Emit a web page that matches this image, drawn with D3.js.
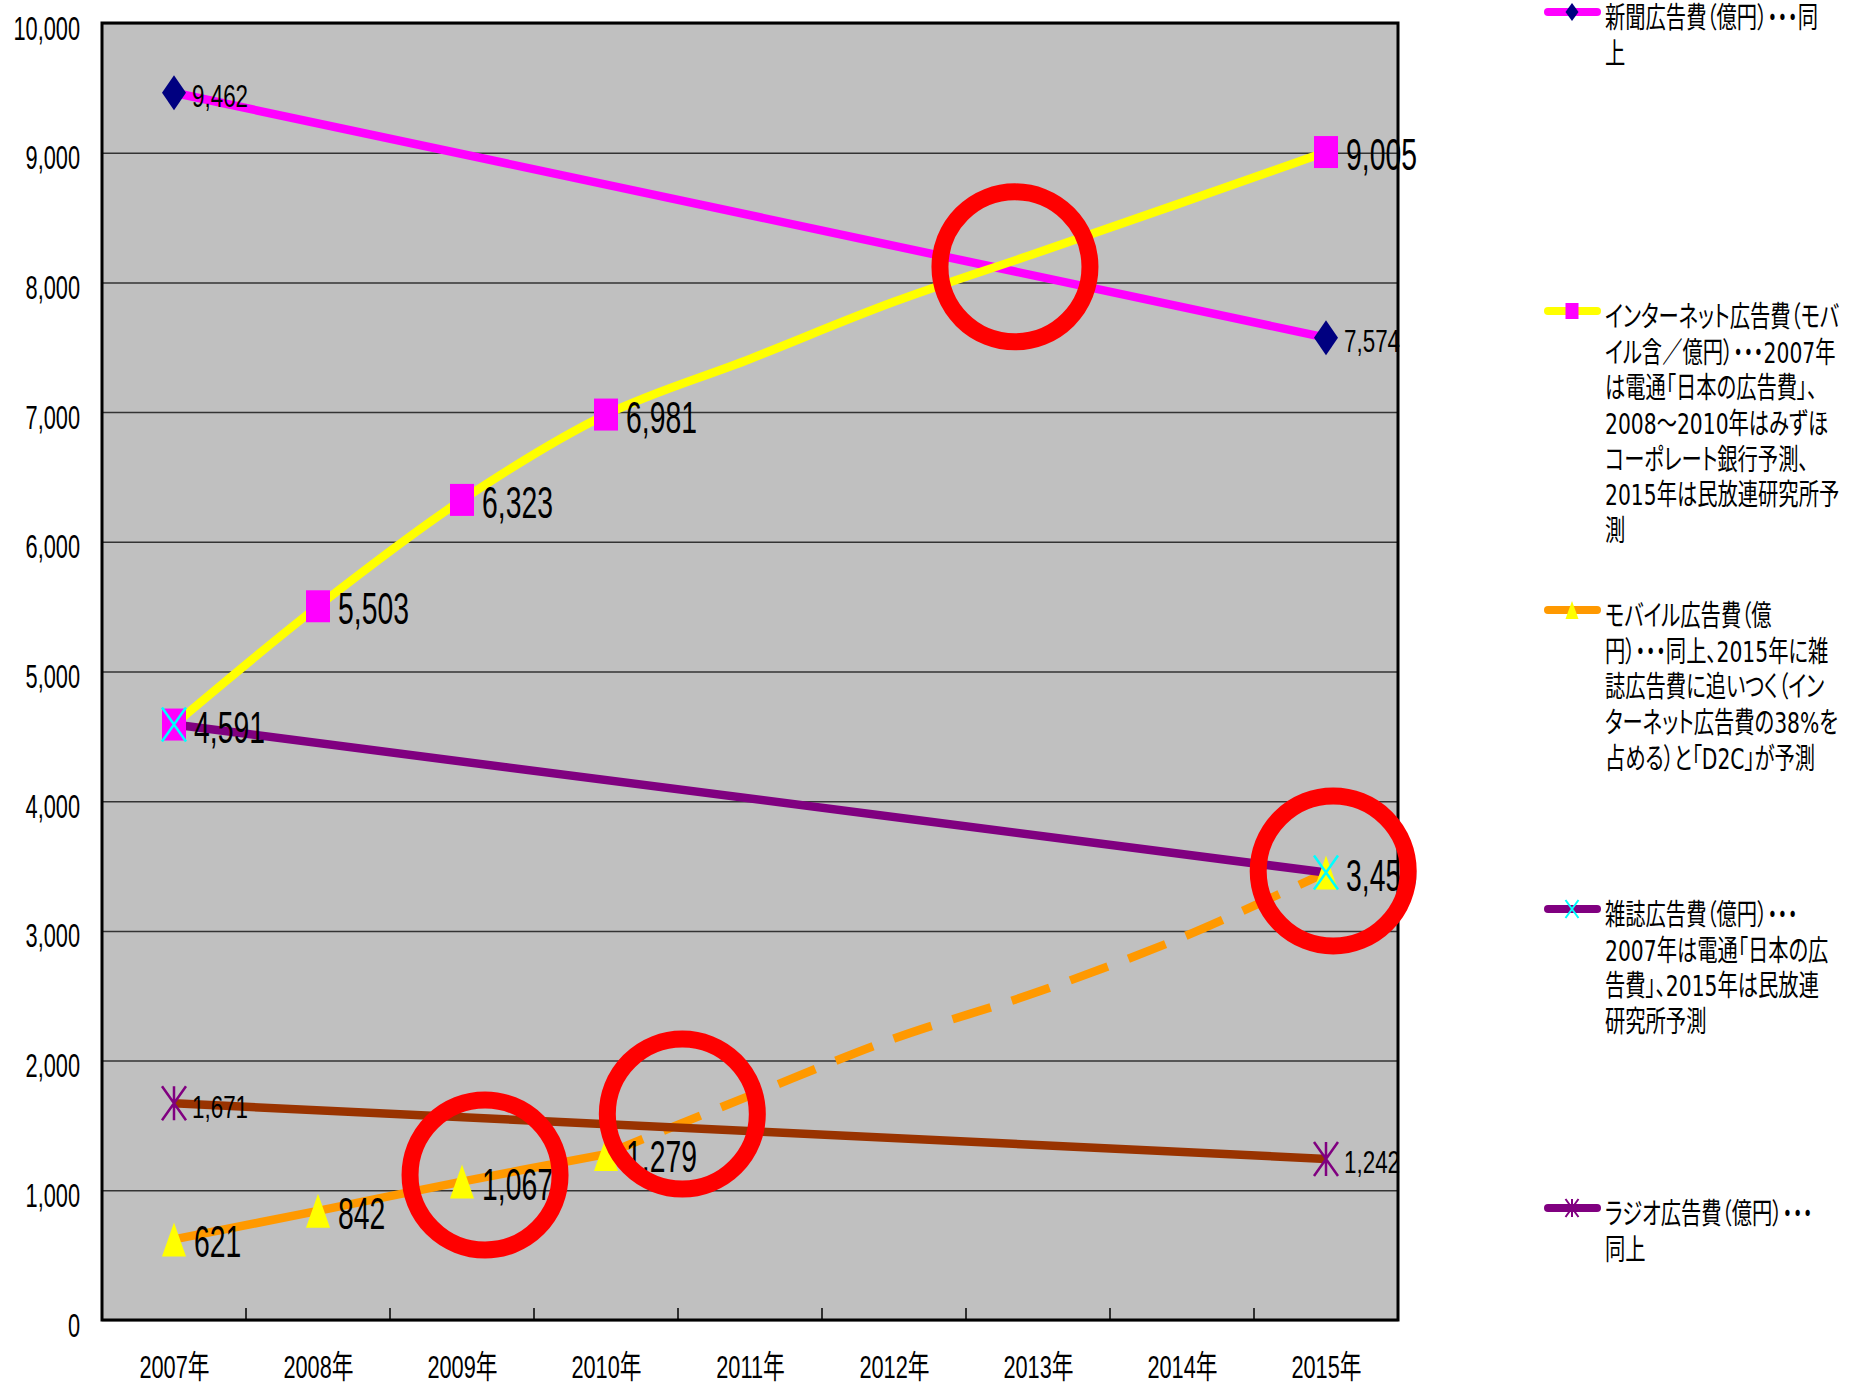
<!DOCTYPE html>
<html>
<head>
<meta charset="utf-8">
<script src="https://cdn.jsdelivr.net/npm/d3@7"></script>
<style>
  body { margin: 0; background: #fff; }
  svg { display: block; }
</style>
</head>
<body>
<svg id="chart"></svg>
<script>
// ---- data ----
const yearLabels = ["2007年", "2008年", "2009年", "2010年", "2011年", "2012年", "2013年", "2014年", "2015年"];
const yTicks = [0, 1000, 2000, 3000, 4000, 5000, 6000, 7000, 8000, 9000, 10000];

const newspaperAd = [9462, null, null, null, null, null, null, null, 7574];
const internetAd  = [4591, 5503, 6323, 6981, 7410, 7850, 8230, 8615, 9005];
const mobileAd    = [621, 842, 1067, 1279, 1730, 2170, 2530, 2950, 3450];
const magazineAd  = [4591, null, null, null, null, null, null, null, 3450];
const radioAd     = [1671, null, null, null, null, null, null, null, 1242];

// years that carry a marker + value label (the rest is only the drawn trend)
const markedYears = ["2007年", "2008年", "2009年", "2010年", "2015年"];
const mobileForecastFrom = "2010年";

// red rings drawn over the chart (year position, value)
const ringYears  = [2012.84, 2015.05, 2010.53, 2009.16];
const ringValues = [8120, 3462, 1588, 1118];

const legendNewspaper = ["新聞広告費（億円）・・・同", "上"];
const legendInternet = ["インターネット広告費（モバ", "イル含／億円）・・・2007年", "は電通「日本の広告費」、",
  "2008～2010年はみずほ", "コーポレート銀行予測、", "2015年は民放連研究所予", "測"];
const legendMobile = ["モバイル広告費（億", "円）・・・同上、2015年に雑", "誌広告費に追いつく（イン",
  "ターネット広告費の38%を", "占める）と「D2C」が予測"];
const legendMagazine = ["雑誌広告費（億円）・・・", "2007年は電通「日本の広", "告費」、2015年は民放連", "研究所予測"];
const legendRadio = ["ラジオ広告費（億円）・・・", "同上"];

// ---- styles ----
const series = [
  {values: newspaperAd, line: "#ff00ff", marker: "diamond", mcolor: "#000080", label: "small", legend: legendNewspaper, lcolor: "#ff00ff"},
  {values: internetAd,  line: "#ffff00", marker: "square",  mcolor: "#ff00ff", label: "big",   legend: legendInternet,  lcolor: "#ffff00"},
  {values: mobileAd,    line: "#ff9900", marker: "triangle",mcolor: "#ffff00", label: "big",   legend: legendMobile,    lcolor: "#ff9900", forecast: true},
  {values: magazineAd,  line: "#800080", marker: "x",       mcolor: "#00ffff", label: null,    legend: legendMagazine,  lcolor: "#800080"},
  {values: radioAd,     line: "#993300", marker: "star",    mcolor: "#800080", label: "small", legend: legendRadio,     lcolor: "#800080"}
];

const W = 1854, H = 1387;
const margin = {top: 23, right: 456, bottom: 67, left: 102};
const width = W - margin.left - margin.right;
const height = H - margin.top - margin.bottom;
const numFont = "'Liberation Sans', 'Noto Sans CJK JP', sans-serif";
const jpFont = "'DejaVu Sans', 'Noto Sans CJK JP', sans-serif";

const svg = d3.select("#chart").attr("width", W).attr("height", H);
const chart = svg.append("g").attr("transform", `translate(${margin.left},${margin.top})`);

const x = d3.scalePoint().domain(yearLabels).range([0, width]).padding(0.5);
const y = d3.scaleLinear().domain([0, 10000]).range([height, 0]);
const xYear = d3.scaleLinear().domain([2007, 2015]).range([x(yearLabels[0]), x(yearLabels[8])]);
const fmt = d3.format(",");

function markerPath(type, w, h) {
  const p = d3.path(), a = w / 2, b = h / 2;
  if (type === "diamond") { p.moveTo(0, -b); p.lineTo(a, 0); p.lineTo(0, b); p.lineTo(-a, 0); p.closePath(); }
  else if (type === "square") { p.rect(-a, -b, w, h); }
  else if (type === "triangle") { p.moveTo(0, -b); p.lineTo(a, b); p.lineTo(-a, b); p.closePath(); }
  else if (type === "x") { p.moveTo(-a, -b); p.lineTo(a, b); p.moveTo(a, -b); p.lineTo(-a, b); }
  else if (type === "star") { p.moveTo(-a, -b); p.lineTo(a, b); p.moveTo(a, -b); p.lineTo(-a, b); p.moveTo(0, -b); p.lineTo(0, b); }
  return p.toString();
}
const stroked = t => t === "x" || t === "star";

function drawMarker(sel, type, color, w, h, sw) {
  sel.attr("d", markerPath(type, w, h))
    .attr("fill", stroked(type) ? "none" : color)
    .attr("stroke", stroked(type) ? color : "none")
    .attr("stroke-width", sw);
}

// plot background
chart.append("rect").attr("width", width).attr("height", height).attr("fill", "#c0c0c0");

// y axis with grid
const yAxisG = chart.append("g")
  .call(d3.axisLeft(y).tickValues(yTicks).tickSize(-width).tickPadding(22).tickFormat(fmt));
yAxisG.select(".domain").remove();
yAxisG.selectAll(".tick line").attr("stroke", "#333").attr("stroke-width", 1.5);
yAxisG.selectAll(".tick text")
  .attr("x", 0).attr("dy", null)
  .attr("transform", "translate(-22,16) scale(0.66,1)")
  .attr("font-family", numFont).attr("font-size", 33).attr("fill", "#000");

// x axis labels
const xAxisG = chart.append("g").attr("transform", `translate(0,${height})`)
  .call(d3.axisBottom(x).tickSize(0).tickPadding(0));
xAxisG.select(".domain").remove();
xAxisG.selectAll(".tick text")
  .attr("y", 0).attr("dy", null)
  .attr("transform", "translate(0,58) scale(0.68,1)")
  .attr("font-family", numFont).attr("font-size", 32).attr("fill", "#000");

// category boundary ticks, pointing into the plot
chart.append("g").selectAll("line")
  .data(yearLabels.slice(1))
  .join("line")
  .attr("x1", d => x(d) - x.step() / 2).attr("x2", d => x(d) - x.step() / 2)
  .attr("y1", height - 12).attr("y2", height)
  .attr("stroke", "#000").attr("stroke-width", 1.5);

// lines
const pts = vals => yearLabels.map((yr, i) => ({yr, v: vals[i]})).filter(d => d.v != null);
const lineGen = d3.line().x(d => x(d.yr)).y(d => y(d.v)).curve(d3.curveCatmullRom.alpha(0.5));
const linesG = chart.append("g").attr("fill", "none").attr("stroke-width", 8.5);

series.forEach(s => {
  const p = pts(s.values);
  if (s.forecast) {
    const k = p.findIndex(d => d.yr === mobileForecastFrom);
    linesG.append("path").attr("d", lineGen(p.slice(0, k + 1))).attr("stroke", s.line).attr("stroke-linejoin", "round");
    linesG.append("path").attr("d", lineGen(p.slice(k))).attr("stroke", s.line).attr("stroke-dasharray", "40 22");
  } else {
    linesG.append("path").attr("d", lineGen(p)).attr("stroke", s.line).attr("stroke-linejoin", "round");
  }
});

// markers
series.forEach(s => {
  const p = pts(s.values).filter(d => markedYears.includes(d.yr));
  chart.append("g").selectAll("path")
    .data(p)
    .join("path")
    .attr("transform", d => `translate(${x(d.yr)},${y(d.v)})`)
    .call(drawMarker, s.marker, s.mcolor, 24, s.marker === "diamond" ? 35 : (s.marker === "square" ? 32 : 34), 2.5);
});

// plot border
chart.append("rect").attr("width", width).attr("height", height)
  .attr("fill", "none").attr("stroke", "#000").attr("stroke-width", 3);

// value labels
const labelG = chart.append("g");
series.filter(s => s.label).forEach(s => {
  const big = s.label === "big";
  const p = pts(s.values).filter(d => markedYears.includes(d.yr));
  labelG.append("g").selectAll("text")
    .data(p)
    .join("text")
    .attr("transform", d => `translate(${x(d.yr) + (big ? 20 : 18)},${y(d.v) + (big ? 18 : 14.5)}) scale(${big ? 0.63 : 0.7},1)`)
    .attr("font-family", numFont)
    .attr("font-size", big ? 45 : 32)
    .attr("fill", "#000")
    .text(d => fmt(d.v));
});

// red rings
chart.append("g").selectAll("circle")
  .data(ringYears.map((yr, i) => ({yr, v: ringValues[i]})))
  .join("circle")
  .attr("cx", d => xYear(d.yr)).attr("cy", d => y(d.v)).attr("r", 75)
  .attr("fill", "none").attr("stroke", "#ff0000").attr("stroke-width", 17);

// legend
const legend = svg.append("g").attr("transform", "translate(1544,12)");
series.forEach((s, i) => {
  const g = legend.append("g").attr("transform", `translate(0,${i * 299})`);
  g.append("line").attr("x1", 4).attr("x2", 53).attr("y1", 0).attr("y2", 0)
    .attr("stroke", s.lcolor).attr("stroke-width", 8).attr("stroke-linecap", "round");
  g.append("path").attr("transform", "translate(28,0)")
    .call(drawMarker, s.marker, s.mcolor, 13, s.marker === "square" ? 16 : 18, 2);
  const t = g.append("text")
    .attr("transform", "translate(61,16) scale(0.7,1)")
    .attr("font-family", jpFont).attr("font-size", 29).attr("fill", "#000")
    .style("font-feature-settings", '"palt" 1');
  t.selectAll("tspan")
    .data(s.legend)
    .join("tspan")
    .attr("x", 0)
    .attr("dy", (d, j) => j === 0 ? 0 : 35.7)
    .text(d => d);
});
</script>
</body>
</html>
